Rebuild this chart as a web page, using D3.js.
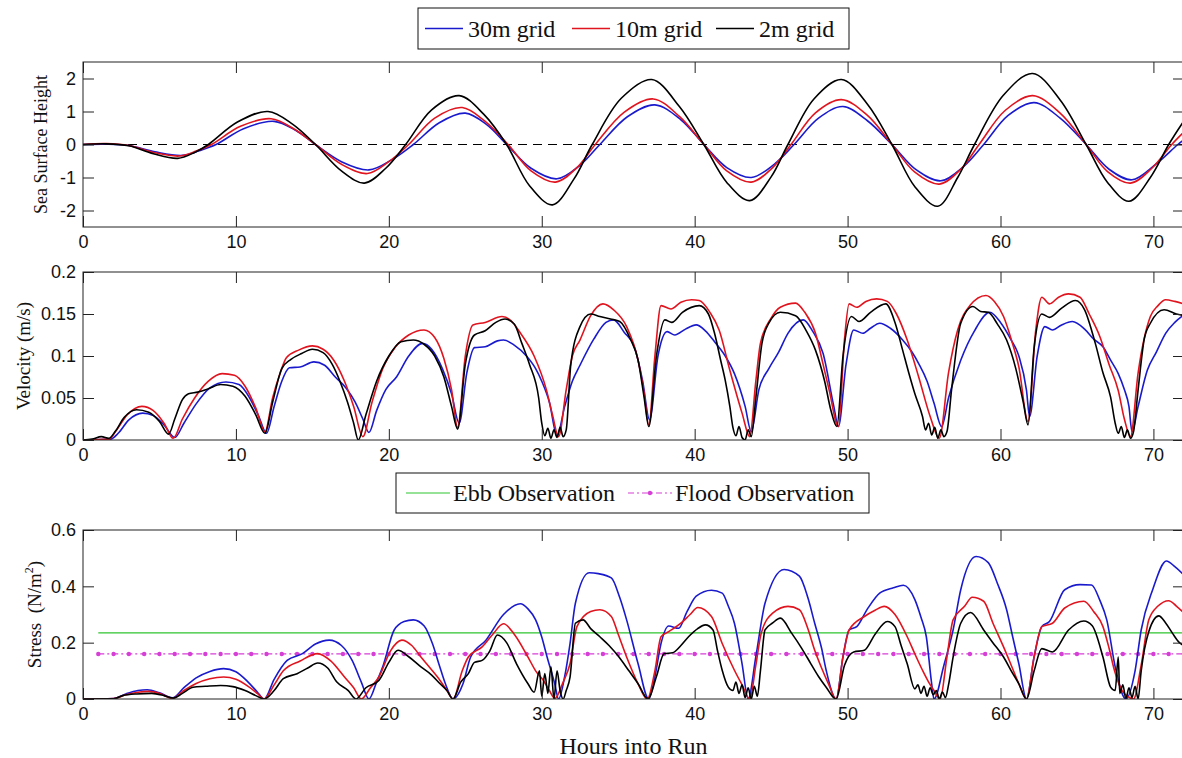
<!DOCTYPE html>
<meta charset="utf-8">
<style>
body { margin: 0; background: #fff; }
text { font-family: "Liberation Sans", Arial, sans-serif; fill: #111; }
.serif { font-family: "Liberation Serif", "Times New Roman", serif; }
.axis line { stroke: #222; }
.frame { fill: none; stroke: #222; stroke-width: 1; }
</style>
<svg width="1182" height="758"></svg>
<script src="https://d3js.org/d3.v7.min.js"></script>
<script>

// ---- data (hours, value) ----
var xTicks = [0, 10, 20, 30, 40, 50, 60, 70];
var sshTicks = [-2, -1, 0, 1, 2];
var velTicks = [0, 0.05, 0.1, 0.15, 0.2];
var stressTicks = [0, 0.2, 0.4, 0.6];

var seriesNames = ["30m grid", "10m grid", "2m grid"];
var seriesColors = ["#1a1acd", "#e0141e", "#000000"];

var sshBlue = [[0,0],[1.5,0.01],[3,-0.03],[4.7,-0.22],[6.5,-0.33],[7.6,-0.19],[8.7,0],[10.5,0.48],[12.5,0.7],[13.9,0.43],[15.2,0],[16.9,-0.52],[18.7,-0.77],[20.2,-0.46],[21.6,0],[23.3,0.66],[25.0,0.95],[26.4,0.6],[27.7,0],[29.3,-0.72],[31.0,-1.04],[32.5,-0.63],[33.8,0],[35.6,0.84],[37.4,1.2],[39.1,0.75],[40.6,0],[42.1,-0.7],[43.7,-1.0],[45.2,-0.6],[46.5,0],[48.1,0.8],[49.7,1.15],[51.3,0.72],[52.9,0],[54.5,-0.77],[56.1,-1.1],[57.6,-0.66],[58.9,0],[60.5,0.88],[62.2,1.27],[63.9,0.8],[65.6,0],[67.1,-0.75],[68.6,-1.07],[70.1,-0.62],[71.6,0],[72,0.14]];
var sshRed = [[0,0],[1.5,0.03],[3,-0.03],[4.6,-0.24],[6.3,-0.35],[7.4,-0.2],[8.4,0],[10.3,0.55],[12.3,0.78],[13.8,0.47],[15.2,0],[16.9,-0.6],[18.6,-0.88],[20.0,-0.52],[21.3,0],[23.0,0.8],[24.8,1.12],[26.3,0.7],[27.8,0],[29.3,-0.8],[30.9,-1.14],[32.3,-0.7],[33.5,0],[35.4,0.98],[37.3,1.38],[39.0,0.85],[40.6,0],[42.1,-0.8],[43.7,-1.14],[45.1,-0.7],[46.3,0],[47.9,0.96],[49.6,1.36],[51.3,0.88],[52.9,0],[54.4,-0.84],[56.0,-1.2],[57.4,-0.75],[58.6,0],[60.3,1.03],[62.1,1.48],[63.9,0.95],[65.6,0],[67.0,-0.82],[68.5,-1.17],[69.9,-0.72],[71.2,0],[72,0.38]];
var sshBlack = [[0,0],[1.5,0.02],[3,-0.04],[4.6,-0.28],[6.2,-0.42],[7.3,-0.24],[8.2,0],[10.1,0.68],[12.1,1.0],[13.7,0.62],[15.2,0],[16.9,-0.8],[18.4,-1.17],[19.8,-0.72],[21.1,0],[22.8,1.05],[24.6,1.48],[26.2,0.92],[27.7,0],[29.2,-1.25],[30.7,-1.83],[32.1,-1.05],[33.3,0],[35.2,1.4],[37.2,1.97],[39.0,1.15],[40.6,0],[42.1,-1.15],[43.6,-1.7],[45.0,-0.98],[46.1,0],[47.8,1.38],[49.6,1.97],[51.3,1.22],[52.9,0],[54.4,-1.28],[55.9,-1.87],[57.2,-1.0],[58.3,0],[60.2,1.5],[62.1,2.15],[63.9,1.35],[65.6,0],[67.0,-1.15],[68.4,-1.72],[69.8,-1.0],[71.0,0],[72,0.72]];

var velBlue = [[0,0],[1.8,0.001],[2.3,0.008],[3.0,0.024],[3.9,0.032],[4.6,0.029],[5.3,0.018],[6.0,0.003],[6.6,0.02],[7.4,0.043],[8.3,0.062],[9.35,0.069],[10.2,0.066],[10.9,0.05],[11.5,0.028],[12.0,0.008],[12.5,0.04],[13.0,0.07],[13.5,0.086],[14.2,0.087],[15.1,0.093],[15.8,0.089],[16.5,0.075],[17.2,0.062],[17.8,0.045],[18.3,0.025],[18.7,0.009],[19.2,0.035],[19.8,0.06],[20.5,0.075],[21.3,0.1],[22.2,0.115],[22.8,0.108],[23.5,0.085],[24.1,0.055],[24.6,0.02],[25.1,0.08],[25.6,0.11],[26.3,0.111],[27.1,0.118],[27.5,0.119],[28.2,0.113],[29.0,0.1],[29.6,0.085],[30.0,0.07],[30.5,0.045],[31.0,0.005],[31.5,0.04],[32.0,0.07],[32.5,0.089],[33.4,0.12],[34.2,0.14],[34.7,0.143],[35.4,0.128],[36.05,0.111],[36.6,0.07],[37.05,0.024],[37.6,0.1],[38.2,0.129],[38.7,0.125],[39.4,0.132],[40.1,0.137],[40.7,0.13],[41.3,0.117],[42.0,0.1],[42.6,0.079],[43.3,0.04],[43.7,0.01],[44.2,0.06],[44.85,0.085],[45.5,0.105],[46.1,0.127],[47.1,0.143],[47.7,0.13],[48.4,0.103],[49.1,0.04],[49.4,0.016],[49.9,0.09],[50.4,0.131],[51.0,0.127],[51.5,0.133],[52.1,0.139],[52.8,0.133],[53.6,0.119],[54.2,0.105],[54.65,0.091],[55.2,0.07],[55.65,0.044],[56.15,0.016],[56.6,0.05],[57.4,0.095],[58.3,0.13],[59.3,0.152],[60.0,0.14],[60.7,0.119],[61.2,0.1],[61.7,0.059],[61.9,0.028],[62.4,0.1],[62.9,0.135],[63.4,0.131],[64.0,0.137],[64.7,0.141],[65.5,0.132],[66.1,0.12],[66.7,0.111],[67.2,0.095],[67.7,0.079],[68.1,0.06],[68.4,0.04],[68.6,0.01],[69.0,0.04],[69.6,0.083],[70.2,0.105],[70.8,0.127],[71.4,0.14],[72,0.149]];
var velRed = [[0,0],[1.7,0.001],[2.2,0.012],[2.9,0.03],[3.85,0.04],[4.6,0.035],[5.3,0.02],[5.9,0.002],[6.5,0.025],[7.3,0.05],[8.2,0.07],[9.1,0.079],[9.9,0.077],[10.6,0.064],[11.3,0.038],[11.9,0.01],[12.4,0.05],[12.9,0.08],[13.3,0.098],[14.1,0.107],[15.0,0.112],[15.7,0.108],[16.4,0.095],[17.1,0.07],[17.7,0.04],[18.3,0.004],[18.9,0.045],[19.6,0.085],[20.4,0.11],[21.3,0.125],[22.3,0.131],[23.0,0.122],[23.6,0.097],[24.1,0.06],[24.5,0.015],[25.0,0.1],[25.5,0.137],[26.3,0.14],[27.4,0.147],[28.0,0.142],[28.5,0.13],[29.5,0.1],[30.3,0.06],[30.7,0.03],[31.1,0.004],[31.6,0.06],[32.0,0.1],[32.5,0.119],[33.2,0.148],[34.0,0.162],[34.7,0.155],[35.55,0.135],[36.3,0.095],[36.7,0.055],[37.0,0.018],[37.4,0.1],[37.8,0.16],[38.45,0.156],[39.1,0.164],[39.8,0.167],[40.3,0.166],[41.0,0.152],[41.6,0.131],[42.3,0.083],[43.1,0.032],[43.6,0.004],[44.0,0.07],[44.3,0.115],[45.0,0.145],[45.6,0.158],[46.6,0.163],[47.2,0.152],[47.9,0.127],[48.4,0.09],[48.8,0.059],[49.4,0.016],[49.8,0.12],[50.1,0.162],[50.6,0.158],[51.2,0.165],[51.9,0.168],[52.6,0.165],[53.2,0.15],[53.9,0.119],[54.65,0.075],[55.4,0.028],[56.0,0.002],[56.6,0.08],[57.2,0.131],[58.0,0.16],[59.05,0.172],[59.6,0.165],[60.2,0.147],[60.7,0.12],[61.2,0.087],[61.8,0.022],[62.3,0.13],[62.7,0.17],[63.2,0.162],[63.8,0.17],[64.45,0.174],[65.2,0.17],[65.8,0.15],[66.5,0.123],[67.1,0.09],[67.7,0.059],[68.1,0.025],[68.5,0.004],[69.0,0.08],[69.8,0.147],[70.3,0.16],[70.8,0.167],[71.4,0.165],[72,0.162]];
var velBlack = [[0,0],[0.6,0.001],[1.2,0.004],[1.7,0.002],[2.1,0.01],[2.7,0.027],[3.5,0.036],[4.3,0.033],[5.0,0.022],[5.6,0.007],[6.0,0.025],[6.5,0.048],[6.9,0.055],[7.5,0.057],[8.2,0.061],[9.0,0.066],[9.8,0.064],[10.6,0.052],[11.3,0.03],[11.9,0.008],[12.4,0.045],[13.0,0.085],[13.6,0.096],[14.3,0.103],[15.0,0.108],[15.7,0.104],[16.3,0.09],[16.8,0.07],[17.3,0.045],[17.7,0.02],[18.0,0.0],[18.5,0.03],[19.2,0.07],[20.0,0.1],[20.8,0.117],[21.6,0.119],[22.3,0.114],[23.0,0.1],[23.6,0.075],[24.1,0.04],[24.5,0.013],[25.0,0.09],[25.6,0.125],[26.3,0.13],[27.0,0.14],[27.6,0.144],[28.2,0.138],[28.7,0.115],[29.2,0.09],[29.8,0.05],[30.0,0.02],[30.2,0.005],[30.4,0.014],[30.6,0.002],[30.8,0.012],[31.0,0.003],[31.2,0.015],[31.4,0.004],[31.6,0.012],[31.9,0.09],[32.5,0.135],[33.2,0.15],[33.8,0.147],[34.5,0.144],[35.1,0.141],[35.8,0.12],[36.3,0.095],[36.7,0.05],[37.0,0.016],[37.5,0.1],[38.05,0.143],[38.5,0.14],[39.2,0.152],[40.3,0.16],[40.9,0.15],[41.3,0.127],[41.7,0.095],[42.0,0.071],[42.3,0.04],[42.5,0.015],[42.7,0.005],[42.9,0.016],[43.1,0.003],[43.3,0.0],[43.5,0.012],[43.7,0.004],[44.0,0.05],[44.4,0.115],[44.85,0.139],[45.6,0.152],[46.6,0.148],[47.3,0.13],[47.9,0.107],[48.5,0.07],[48.9,0.036],[49.3,0.016],[49.7,0.1],[50.25,0.147],[50.75,0.141],[51.5,0.152],[52.5,0.162],[53.1,0.14],[53.6,0.107],[54.0,0.08],[54.4,0.055],[54.9,0.028],[55.1,0.012],[55.3,0.02],[55.5,0.006],[55.7,0.015],[55.9,0.002],[56.1,0.012],[56.3,0.004],[56.5,0.01],[56.8,0.06],[57.4,0.139],[58.2,0.159],[58.7,0.153],[59.2,0.152],[59.8,0.138],[60.4,0.119],[61.0,0.085],[61.5,0.044],[61.8,0.018],[62.2,0.11],[62.7,0.15],[63.2,0.146],[64.0,0.157],[64.9,0.166],[65.5,0.155],[66.2,0.115],[66.7,0.08],[67.2,0.051],[67.5,0.02],[67.7,0.008],[67.9,0.016],[68.1,0.003],[68.3,0.012],[68.5,0.002],[68.7,0.01],[69.0,0.06],[69.4,0.12],[69.8,0.139],[70.7,0.155],[71.5,0.15],[72,0.148]];

var stressBlue = [[0,0],[2.0,0.002],[2.8,0.018],[3.6,0.03],[4.2,0.033],[5.0,0.022],[5.85,0.004],[6.6,0.04],[7.4,0.075],[8.3,0.098],[9.2,0.108],[10.0,0.097],[10.8,0.06],[11.4,0.025],[11.85,0.0],[12.5,0.07],[13.35,0.137],[14.35,0.161],[15.2,0.195],[16.1,0.209],[16.9,0.19],[17.6,0.137],[18.2,0.06],[18.7,0.0],[19.2,0.06],[19.6,0.114],[20.35,0.245],[21.0,0.275],[21.6,0.281],[22.3,0.26],[22.85,0.197],[23.3,0.12],[23.7,0.054],[24.2,0.0],[24.85,0.054],[25.35,0.149],[26.35,0.209],[27.5,0.3],[28.6,0.338],[29.1,0.32],[29.6,0.281],[30.0,0.22],[30.35,0.149],[30.85,0.054],[31.1,0.0],[31.5,0.08],[31.85,0.197],[32.2,0.34],[33.1,0.448],[33.7,0.445],[34.55,0.43],[35.1,0.36],[35.55,0.281],[36.3,0.125],[37.0,0.0],[37.4,0.08],[37.8,0.197],[38.3,0.259],[38.95,0.251],[39.5,0.31],[40.1,0.365],[41.1,0.386],[41.8,0.376],[42.2,0.33],[42.6,0.269],[43.1,0.125],[43.5,0.0],[44.0,0.15],[44.6,0.34],[45.85,0.46],[46.85,0.436],[47.4,0.36],[47.85,0.269],[48.3,0.18],[48.6,0.102],[49.25,0.0],[49.7,0.15],[50.1,0.245],[50.6,0.257],[51.3,0.32],[52.1,0.376],[53.0,0.395],[53.65,0.404],[54.4,0.353],[54.8,0.29],[55.15,0.221],[55.5,0.054],[55.65,0.0],[56.3,0.12],[56.9,0.245],[57.4,0.388],[58.4,0.506],[59.2,0.484],[59.8,0.41],[60.4,0.317],[60.8,0.22],[61.2,0.125],[61.7,0.0],[62.2,0.15],[62.7,0.257],[63.2,0.275],[64.2,0.388],[65.2,0.406],[65.95,0.405],[66.5,0.35],[66.95,0.281],[67.5,0.114],[68.2,0.0],[68.8,0.1],[69.2,0.245],[69.95,0.388],[70.85,0.49],[71.4,0.47],[72,0.44]];
var stressRed = [[0,0],[2.0,0.002],[2.8,0.015],[3.6,0.024],[4.3,0.027],[5.1,0.018],[5.85,0.002],[6.6,0.03],[7.4,0.055],[8.3,0.072],[9.2,0.078],[10.0,0.07],[10.8,0.045],[11.4,0.02],[11.85,0.0],[12.5,0.05],[13.1,0.1],[14.2,0.135],[15.35,0.161],[16.2,0.135],[17.1,0.078],[17.7,0.04],[18.2,0.0],[18.8,0.04],[19.35,0.078],[20.1,0.17],[20.85,0.209],[21.5,0.19],[22.1,0.149],[22.7,0.11],[23.35,0.066],[23.8,0.03],[24.2,0.0],[24.8,0.1],[25.2,0.149],[26.1,0.185],[26.8,0.23],[27.5,0.267],[28.2,0.23],[29.1,0.149],[29.6,0.1],[30.1,0.066],[30.5,0.03],[30.85,0.002],[31.4,0.06],[31.85,0.125],[32.3,0.257],[33.2,0.311],[33.8,0.317],[34.55,0.293],[35.0,0.23],[35.55,0.149],[36.3,0.054],[36.9,0.0],[37.4,0.1],[37.8,0.221],[38.3,0.239],[39.1,0.269],[39.7,0.3],[40.2,0.325],[41.1,0.293],[41.8,0.197],[42.6,0.102],[43.1,0.05],[43.6,0.0],[44.0,0.12],[44.35,0.233],[45.1,0.305],[46.1,0.329],[46.85,0.317],[47.4,0.25],[47.85,0.173],[48.3,0.11],[48.75,0.054],[49.25,0.0],[49.7,0.15],[50.1,0.245],[51.1,0.293],[51.8,0.315],[52.4,0.329],[53.1,0.3],[53.9,0.221],[54.4,0.16],[54.9,0.102],[55.3,0.06],[55.65,0.03],[56.05,0.0],[56.5,0.15],[56.9,0.281],[57.65,0.329],[58.15,0.361],[58.9,0.347],[59.5,0.27],[60.2,0.185],[60.7,0.12],[61.2,0.054],[61.7,0.0],[62.2,0.15],[62.7,0.257],[63.4,0.269],[64.2,0.323],[65.45,0.347],[66.1,0.31],[66.7,0.257],[67.1,0.18],[67.45,0.102],[67.95,0.03],[68.3,0.01],[68.7,0.0],[69.2,0.12],[69.7,0.281],[70.3,0.33],[71.0,0.349],[71.5,0.33],[72,0.305]];
var stressBlack = [[0,0],[2.0,0.001],[2.6,0.012],[3.5,0.018],[4.5,0.02],[5.3,0.012],[5.9,0.003],[6.5,0.02],[7.2,0.042],[8.0,0.045],[9.0,0.048],[9.8,0.044],[10.6,0.03],[11.3,0.012],[11.85,0.0],[12.5,0.03],[13.1,0.072],[14.0,0.09],[14.7,0.11],[15.35,0.128],[16.0,0.11],[16.6,0.06],[17.35,0.03],[17.85,0.0],[18.5,0.04],[19.35,0.066],[20.0,0.13],[20.6,0.173],[21.3,0.15],[22.1,0.114],[22.8,0.085],[23.35,0.054],[23.8,0.03],[24.2,0.0],[24.7,0.06],[25.2,0.09],[25.6,0.13],[26.1,0.137],[26.6,0.17],[27.1,0.227],[27.7,0.2],[28.35,0.125],[29.1,0.054],[29.5,0.024],[29.85,0.1],[30.0,0.01],[30.2,0.09],[30.4,0.02],[30.6,0.114],[30.8,0.0],[31.0,0.1],[31.2,0.03],[31.4,0.0],[31.6,0.03],[31.85,0.078],[32.2,0.269],[32.7,0.281],[33.2,0.25],[33.8,0.221],[34.4,0.19],[35.05,0.149],[35.7,0.1],[36.3,0.054],[36.95,0.0],[37.5,0.08],[38.0,0.161],[38.55,0.164],[39.1,0.19],[39.6,0.221],[40.2,0.25],[40.7,0.263],[41.2,0.245],[41.5,0.17],[41.8,0.102],[42.2,0.042],[42.5,0.03],[42.7,0.06],[42.9,0.02],[43.1,0.05],[43.3,0.005],[43.5,0.04],[43.7,0.0],[43.9,0.045],[44.1,0.01],[44.3,0.1],[44.6,0.245],[45.1,0.27],[45.6,0.287],[46.35,0.233],[47.0,0.18],[47.6,0.125],[48.1,0.08],[48.6,0.042],[49.25,0.0],[49.8,0.12],[50.4,0.167],[51.1,0.173],[51.8,0.23],[52.6,0.275],[53.1,0.257],[53.5,0.19],[53.9,0.125],[54.4,0.036],[54.6,0.05],[54.8,0.02],[55.0,0.045],[55.2,0.01],[55.4,0.04],[55.6,0.015],[55.8,0.03],[56.0,0.0],[56.2,0.025],[56.4,0.005],[56.6,0.05],[56.9,0.149],[57.4,0.269],[58.05,0.307],[58.9,0.245],[59.5,0.2],[60.2,0.149],[60.7,0.1],[61.2,0.054],[61.7,0.0],[62.2,0.1],[62.7,0.179],[63.4,0.167],[64.45,0.245],[65.45,0.277],[66.0,0.26],[66.7,0.149],[67.2,0.042],[67.5,0.03],[67.7,0.149],[67.8,0.02],[68.0,0.05],[68.2,0.0],[68.4,0.04],[68.6,0.005],[68.8,0.045],[69.0,0.0],[69.2,0.1],[69.7,0.24],[70.35,0.295],[70.8,0.27],[71.25,0.233],[71.7,0.2],[72,0.19]];

var ebbStress = 0.235;
var floodStress = 0.16;
var obsHours = d3.range(1, 73);   // flood markers sit on whole hours

// ---- layout ----
var svg = d3.select("svg");
var left = 83, right = 1184;
var x = d3.scaleLinear().domain([0, 72]).range([left, right]);

var panels = [
  { id: "ssh", top: 62, bottom: 227, domain: [-2.5, 2.5], ticks: sshTicks,
    series: [sshBlue, sshRed, sshBlack], curve: d3.curveCatmullRom,
    label: "Sea Surface Height", lx: 47, size: 18 },
  { id: "vel", top: 272, bottom: 440, domain: [0, 0.2], ticks: velTicks,
    series: [velBlue, velRed, velBlack], curve: d3.curveMonotoneX,
    label: "Velocity (m/s)", lx: 30, size: 19 },
  { id: "str", top: 530, bottom: 699, domain: [0, 0.6], ticks: stressTicks,
    series: [stressBlue, stressRed, stressBlack], curve: d3.curveMonotoneX,
    label: null, lx: 41, size: 19 }
];

panels.forEach(function(p) {
  var y = d3.scaleLinear().domain(p.domain).range([p.bottom, p.top]);
  p.y = y;
  var g = svg.append("g");

  svg.append("clipPath").attr("id", "clip-" + p.id)
    .append("rect").attr("x", left).attr("y", p.top)
    .attr("width", right - left).attr("height", p.bottom - p.top);

  var plot = g.append("g").attr("clip-path", "url(#clip-" + p.id + ")");

  if (p.id === "ssh") {
    plot.append("line")
      .attr("x1", left).attr("x2", right)
      .attr("y1", y(0)).attr("y2", y(0))
      .attr("stroke", "#000").attr("stroke-width", 1)
      .attr("stroke-dasharray", "9,6");
  }

  if (p.id === "str") {
    plot.append("line")
      .attr("x1", x(1)).attr("x2", right)
      .attr("y1", y(ebbStress)).attr("y2", y(ebbStress))
      .attr("stroke", "#2ec52e").attr("stroke-width", 1.2);
    plot.append("line")
      .attr("x1", x(1)).attr("x2", right)
      .attr("y1", y(floodStress)).attr("y2", y(floodStress))
      .attr("stroke", "#d63fd6").attr("stroke-width", 1.2)
      .attr("stroke-dasharray", "6,3,2,3");
    plot.selectAll(".flood").data(obsHours).enter().append("circle")
      .attr("cx", function(d) { return x(d); })
      .attr("cy", y(floodStress))
      .attr("r", 2.2)
      .attr("fill", "#d63fd6");
  }

  var line = d3.line()
    .x(function(d) { return x(d[0]); })
    .y(function(d) { return y(d[1]); })
    .curve(p.curve);

  plot.selectAll(".series").data(p.series).enter().append("path")
    .attr("d", line)
    .attr("fill", "none")
    .attr("stroke", function(d, i) { return seriesColors[i]; })
    .attr("stroke-width", 1.6)
    .attr("stroke-linejoin", "round");

  // axes, ticks pointing inward like matlab
  var bottomAxis = d3.axisBottom(x).tickValues(xTicks)
    .tickSizeInner(-11).tickSizeOuter(0).tickPadding(8);
  g.append("g").attr("class", "axis")
    .attr("transform", "translate(0," + p.bottom + ")")
    .call(bottomAxis)
    .call(function(a) { a.select(".domain").remove(); })
    .selectAll("text").attr("font-size", 18).attr("font-family", "Liberation Sans, Arial, sans-serif");

  g.append("g").attr("class", "axis")
    .attr("transform", "translate(0," + p.top + ")")
    .call(d3.axisTop(x).tickValues(xTicks).tickSizeInner(-11).tickSizeOuter(0).tickFormat(""))
    .call(function(a) { a.select(".domain").remove(); });

  g.append("g").attr("class", "axis")
    .attr("transform", "translate(" + left + ",0)")
    .call(d3.axisLeft(y).tickValues(p.ticks).tickSizeInner(-11).tickSizeOuter(0).tickPadding(7)
      .tickFormat(function(d) { return String(d); }))
    .call(function(a) { a.select(".domain").remove(); })
    .selectAll("text").attr("font-size", 18).attr("font-family", "Liberation Sans, Arial, sans-serif");

  g.append("g").attr("class", "axis")
    .attr("transform", "translate(" + right + ",0)")
    .call(d3.axisRight(y).tickValues(p.ticks).tickSizeInner(-11).tickSizeOuter(0).tickFormat(""))
    .call(function(a) { a.select(".domain").remove(); });

  g.append("rect").attr("class", "frame")
    .attr("x", left).attr("y", p.top)
    .attr("width", right - left).attr("height", p.bottom - p.top);

  var cy = (p.top + p.bottom) / 2;
  var lab = svg.append("text").attr("class", "serif")
    .attr("transform", "translate(" + p.lx + "," + cy + ") rotate(-90)")
    .attr("text-anchor", "middle")
    .attr("font-size", p.size)
    .style("white-space", "pre");
  if (p.label) {
    lab.text(p.label);
  } else {
    lab.append("tspan").text("Stress  (N/m");
    lab.append("tspan").attr("font-size", 12).attr("dy", -8).text("2");
    lab.append("tspan").attr("dy", 8).text(")");
  }
});

svg.append("text").attr("class", "serif")
  .attr("x", (left + right) / 2).attr("y", 754)
  .attr("text-anchor", "middle").attr("font-size", 24)
  .text("Hours into Run");

// ---- legend, top ----
var leg1 = svg.append("g");
leg1.append("rect").attr("x", 418).attr("y", 8).attr("width", 431).attr("height", 41)
  .attr("fill", "#fff").attr("stroke", "#111");
var leg1Pos = [425, 572, 716];
seriesNames.forEach(function(n, i) {
  leg1.append("line").attr("x1", leg1Pos[i]).attr("x2", leg1Pos[i] + 38)
    .attr("y1", 28.5).attr("y2", 28.5)
    .attr("stroke", seriesColors[i]).attr("stroke-width", 1.6);
  leg1.append("text").attr("class", "serif")
    .attr("x", leg1Pos[i] + 43).attr("y", 36.5).attr("font-size", 24).text(n);
});

// ---- legend, bottom ----
var leg2 = svg.append("g");
leg2.append("rect").attr("x", 396).attr("y", 473).attr("width", 473).attr("height", 40)
  .attr("fill", "#fff").attr("stroke", "#111");
leg2.append("line").attr("x1", 406).attr("x2", 450).attr("y1", 493).attr("y2", 493)
  .attr("stroke", "#2ec52e").attr("stroke-width", 1.2);
leg2.append("text").attr("class", "serif").attr("x", 453).attr("y", 501)
  .attr("font-size", 24).text("Ebb Observation");
leg2.append("line").attr("x1", 628).attr("x2", 672).attr("y1", 493).attr("y2", 493)
  .attr("stroke", "#d63fd6").attr("stroke-width", 1.2).attr("stroke-dasharray", "6,3,2,3");
leg2.append("circle").attr("cx", 650).attr("cy", 493).attr("r", 2.2).attr("fill", "#d63fd6");
leg2.append("text").attr("class", "serif").attr("x", 675).attr("y", 501)
  .attr("font-size", 24).text("Flood Observation");

</script>
